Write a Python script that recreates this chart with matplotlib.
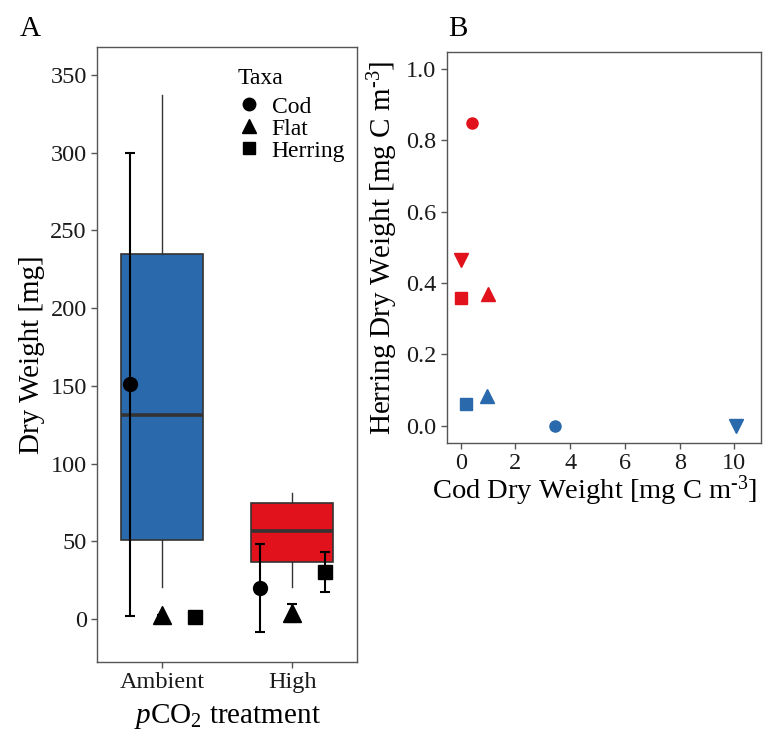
import matplotlib
matplotlib.use('Agg')
import matplotlib.pyplot as plt
from matplotlib.lines import Line2D

plt.rcParams['font.family'] = ['Liberation Serif', 'DejaVu Serif']
plt.rcParams['mathtext.fontset'] = 'custom'
plt.rcParams['mathtext.rm'] = 'Liberation Serif'
plt.rcParams['mathtext.it'] = 'Liberation Serif:italic'

# Panel A data
treatments = ['Ambient', 'High']
box_colors = ['#2A69AC', '#E1121B']
q1 = [51, 36.5]
med = [131, 57]
q3 = [235, 74.5]
whislo = [20.5, 20.5]
whishi = [337, 81]

taxa = ['Cod', 'Flat', 'Herring']
taxa_markers = ['o', '^', 's']
taxa_offsets = [-0.25, 0.0, 0.25]
# mean, lower, upper per treatment
cod_mean = [151, 20]
cod_lo = [2, -8]
cod_hi = [300, 48]
flat_mean = [2.5, 4]
flat_lo = [2.5, -2]
flat_hi = [2.5, 10]
herring_mean = [1.5, 30]
herring_lo = [1.5, 17.5]
herring_hi = [1.5, 43]

# Panel B data
b_cod = [0.4, 0.02, 0.0, 0.99, 0.2, 0.95, 3.44, 10.07]
b_herring = [0.849, 0.466, 0.358, 0.37, 0.061, 0.083, 0.0, 0.0]
b_marker = ['o', 'v', 's', '^', 's', '^', 'o', 'v']
b_group = ['High', 'High', 'High', 'High', 'Ambient', 'Ambient', 'Ambient', 'Ambient']

fig = plt.figure(figsize=(7.65, 7.33), dpi=100)
axA = fig.add_axes([0.127, 0.097, 0.340, 0.839])
axB = fig.add_axes([0.584, 0.396, 0.411, 0.533])

spine_col = '#555555'
for ax in (axA, axB):
    for s in ax.spines.values():
        s.set_color(spine_col)
        s.set_linewidth(1.0)
    ax.tick_params(direction='out', length=4, width=1, color=spine_col,
                   labelsize=17.5, labelcolor='#1a1a1a')

# --- Panel A ---
stats = []
for i in range(len(treatments)):
    stats.append(dict(med=med[i], q1=q1[i], q3=q3[i], whislo=whislo[i],
                      whishi=whishi[i], fliers=[]))
bp = axA.bxp(stats, positions=[1, 2], widths=0.63, showcaps=False,
             patch_artist=True, manage_ticks=False)
for patch, c in zip(bp['boxes'], box_colors):
    patch.set_facecolor(c)
    patch.set_edgecolor('#333333')
    patch.set_linewidth(1.2)
for m in bp['medians']:
    m.set_color('#333333')
    m.set_linewidth(2.6)
for w in bp['whiskers']:
    w.set_color('#333333')
    w.set_linewidth(1.0)

means = [cod_mean, flat_mean, herring_mean]
los = [cod_lo, flat_lo, herring_lo]
his = [cod_hi, flat_hi, herring_hi]
msizes = [10, 13, 10.5]
for k in range(len(taxa)):
    xs = [i + 1 + taxa_offsets[k] for i in range(len(treatments))]
    yerr = [[means[k][i] - los[k][i] for i in range(2)],
            [his[k][i] - means[k][i] for i in range(2)]]
    axA.errorbar(xs, means[k], yerr=yerr, fmt=taxa_markers[k], color='black',
                 ms=msizes[k], elinewidth=1.5, capsize=3.5, capthick=1.5, zorder=5)

axA.set_xlim(0.5, 2.5)
axA.set_ylim(-27.5, 368)
axA.set_xticks([1, 2])
axA.set_xticklabels(treatments)
axA.set_yticks([0, 50, 100, 150, 200, 250, 300, 350])
axA.set_ylabel('Dry Weight [mg]', fontsize=21, labelpad=4)
axA.set_xlabel('$p$CO$_2$ treatment', fontsize=21, labelpad=6)

# legend (title drawn separately to get the wider gap)
fig.text(238 / 765, 1 - 78 / 733, 'Taxa', fontsize=17, va='center', ha='left')
handles = [Line2D([], [], marker=m, color='black', linestyle='none',
                  markersize=10 if m == '^' else 9)
           for m in taxa_markers]
leg = fig.legend(handles, taxa, loc='upper left',
                 bbox_to_anchor=(235 / 765, 1 - 96 / 733), frameon=False,
                 fontsize=17, handletextpad=0.35,
                 labelspacing=0.02, borderaxespad=0.0, borderpad=0.0,
                 handlelength=1.2)

fig.text(30 / 765, 1 - 29 / 733, 'A', fontsize=21, va='center', ha='center')

# --- Panel B ---
for x, y, m, g in zip(b_cod, b_herring, b_marker, b_group):
    col = box_colors[treatments.index(g)]
    size = 10 if m in ('^', 'v') else 8
    axB.plot(x, y, marker=m, color=col, markersize=size, linestyle='none')

axB.set_xlim(-0.51, 10.98)
axB.set_ylim(-0.048, 1.048)
axB.set_xticks([0, 2, 4, 6, 8, 10])
axB.set_yticks([0.0, 0.2, 0.4, 0.6, 0.8, 1.0])
axB.set_yticklabels(['0.0', '0.2', '0.4', '0.6', '0.8', '1.0'])
axB.set_xlabel(r'Cod Dry Weight [mg C m$^{\mathrm{\text{-}3}}$]', fontsize=20.5, labelpad=4)
axB.xaxis.set_label_coords(0.47, -0.08)
axB.set_ylabel(r'Herring Dry Weight [mg C m$^{\mathrm{\text{-}3}}$]', fontsize=21, labelpad=4)

fig.text(458 / 765, 1 - 29 / 733, 'B', fontsize=21, va='center', ha='center')

fig.savefig('out.png', dpi=100)
